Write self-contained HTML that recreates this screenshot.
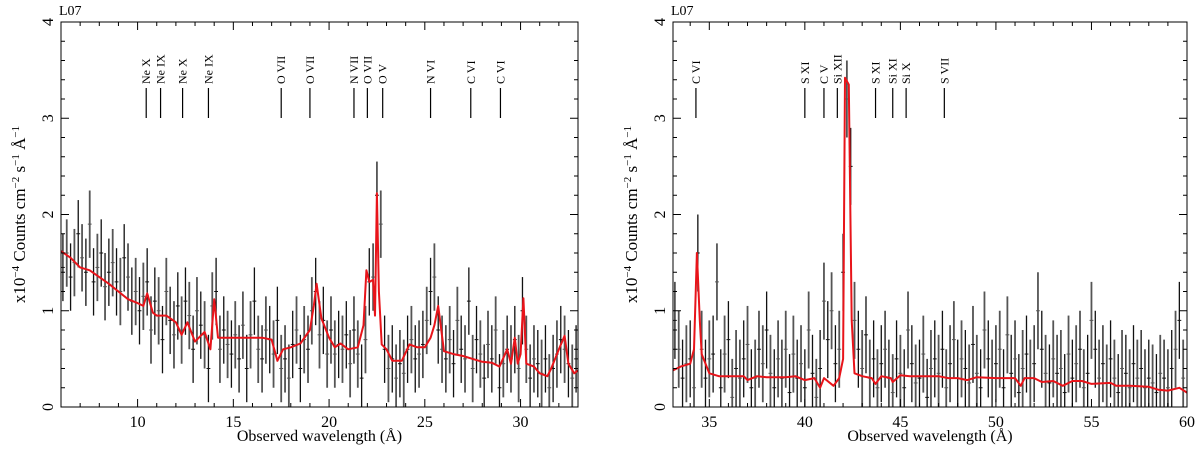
<!DOCTYPE html>
<html><head><meta charset="utf-8"><style>
html,body{margin:0;padding:0;background:#fff;}
svg{display:block;font-family:"Liberation Serif",serif;}
</style></head><body>
<svg id="chart" width="1200" height="452" viewBox="0 0 1200 452" xmlns="http://www.w3.org/2000/svg"></svg>
<script>
// ---------- data ----------
const leftStart = 6.1, leftStep = 0.2;
const leftFlux = [
1.45,1.6,1.35,1.5,1.8,1.55,1.4,1.9,1.3,1.45,
1.6,1.25,1.4,1.5,1.3,1.2,1.55,1.35,1.1,1.2,
1.0,1.15,1.3,0.8,1.1,1.0,0.7,1.2,0.9,0.75,
1.05,0.8,1.1,0.95,0.6,1.0,0.85,0.75,0.4,1.05,
1.2,0.6,0.8,0.65,0.55,0.75,0.5,0.85,0.4,0.75,
1.1,0.6,0.5,0.8,0.7,0.55,0.9,0.4,0.5,0.3,
0.65,0.8,0.4,0.7,0.6,1.0,1.2,0.75,0.9,0.55,
0.8,0.55,0.65,0.6,0.75,0.45,0.8,0.55,0.3,0.7,
1.3,1.35,2.2,1.9,0.6,0.4,0.5,0.3,0.45,0.35,
0.6,0.7,0.5,0.55,0.65,0.9,1.2,1.35,0.8,0.6,
0.5,0.7,0.45,0.9,0.6,0.5,1.1,0.4,0.7,0.55,
0.3,0.65,0.5,0.8,0.2,0.45,0.6,0.5,0.7,0.4,
1.0,0.6,0.3,0.5,0.45,0.35,0.5,0.2,0.4,0.55,
0.7,0.6,0.45,0.3,0.5];
const rightStart = 33.2, rightStep = 0.2;
const rightFlux = [
0.9,0.6,0.3,0.45,0.5,0.2,1.6,0.6,0.3,0.5,
0.55,1.3,0.2,0.55,0.7,0.1,0.4,0.3,0.5,0.65,
0.2,0.3,0.6,0.45,0.8,0.35,0.2,0.5,0.3,0.6,
0.15,0.55,0.3,0.45,0.2,0.8,0.35,0.1,0.4,1.1,
0.7,1.0,0.45,0.6,1.4,3.2,2.5,0.9,0.6,0.4,
0.75,0.3,0.5,0.2,0.45,0.6,0.3,0.15,0.5,0.35,
0.2,0.8,0.45,0.25,0.3,0.55,0.1,0.4,0.5,0.35,
0.6,0.2,0.45,0.7,0.3,0.5,0.4,0.25,0.65,0.35,
0.2,0.8,0.5,0.3,0.45,0.6,0.2,0.75,0.35,0.5,
0.15,0.4,0.55,0.3,0.45,1.0,0.6,0.35,0.25,0.5,
0.35,0.4,0.15,0.55,0.3,0.45,0.6,0.2,0.35,0.9,
0.6,0.3,0.45,0.25,0.5,0.3,0.15,0.4,0.35,0.2,
0.45,0.3,0.4,0.2,0.3,0.25,0.15,0.35,0.3,0.2,
0.4,0.6,0.9,0.3];
const leftErr = 0.35, rightErr = 0.4;
const leftModelX = [6,6.5,7,7.5,8,8.5,9,9.5,10,10.3,10.5,10.8,11,11.5,12,12.3,12.6,13,13.5,13.8,14,14.2,15,15.5,16,16.5,17,17.3,17.6,18,18.5,19,19.2,19.35,19.6,20,20.3,20.6,21,21.5,21.8,21.95,22.1,22.3,22.4,22.5,22.6,22.75,23,23.3,23.8,24.2,24.6,25,25.3,25.5,25.7,26,26.5,27,27.5,28,28.5,28.9,29.3,29.5,29.7,29.85,30,30.15,30.3,30.7,31,31.4,31.6,32,32.3,32.5,32.8,33];
const leftModelY = [1.62,1.55,1.45,1.42,1.35,1.28,1.2,1.12,1.08,1.05,1.18,0.98,0.95,0.95,0.88,0.75,0.88,0.68,0.78,0.6,1.12,0.72,0.72,0.72,0.72,0.72,0.7,0.48,0.6,0.62,0.66,0.8,1.05,1.28,0.92,0.72,0.62,0.66,0.6,0.62,0.85,1.42,1.3,1.32,0.95,2.22,1.2,0.65,0.6,0.48,0.48,0.65,0.62,0.62,0.72,0.85,1.05,0.58,0.55,0.53,0.5,0.47,0.46,0.42,0.6,0.45,0.72,0.45,0.55,1.13,0.45,0.42,0.35,0.32,0.4,0.6,0.74,0.45,0.35,0.38];
const rightModelX = [33.1,33.5,34,34.2,34.35,34.5,34.6,35,35.5,36,36.8,37,37.5,38,39,39.5,40,40.5,40.8,41,41.5,41.8,42,42.1,42.3,42.45,42.6,43,43.5,43.7,44,44.5,44.6,45,45.5,46,47,47.5,48,48.5,49,50,51,51.3,51.5,52,52.4,53,53.5,54,54.5,55,56,56.3,57,58,58.5,59,59.6,60];
const rightModelY = [0.38,0.42,0.45,0.6,1.6,0.9,0.55,0.35,0.32,0.32,0.32,0.28,0.32,0.31,0.31,0.32,0.28,0.3,0.2,0.3,0.22,0.3,0.5,3.42,3.35,0.9,0.35,0.32,0.3,0.24,0.32,0.3,0.26,0.33,0.32,0.32,0.32,0.3,0.3,0.28,0.31,0.3,0.3,0.22,0.3,0.3,0.26,0.27,0.22,0.27,0.27,0.24,0.25,0.22,0.22,0.21,0.18,0.17,0.2,0.15];
const leftLineNames = ["Ne X","Ne IX","Ne X","Ne IX","O VII","O VII","N VII","O VII","O V","N VI","C VI","C VI"];
const leftLineWaves = [10.45,11.2,12.35,13.7,17.5,19.0,21.3,22.0,22.8,25.3,27.4,28.95];
const rightLineNames = ["C VI","S XI","C V","Si XII","S XI","Si XI","Si X","S VII"];
const rightLineWaves = [34.3,40.0,41.0,41.7,43.7,44.6,45.3,47.3];
const leftXTicks = [10,15,20,25,30];
const rightXTicks = [35,40,45,50,55,60];
const yTicks = [0,1,2,3,4];

// ---------- drawing ----------
const NS = "http://www.w3.org/2000/svg";
const svg = document.getElementById('chart');
function el(tag, attrs, parent){const e=document.createElementNS(NS,tag);for(const k in attrs)e.setAttribute(k,attrs[k]);(parent||svg).appendChild(e);return e;}

function panel(cfg){
  const g = el('g',{});
  
  
  const {x0,x1,xmin,xmax} = cfg; const y0=407, y1=22, ymin=0, ymax=4;
  const sx = v => x0 + (v-xmin)/(xmax-xmin)*(x1-x0);
  const sy = v => y0 - (v-ymin)/(ymax-ymin)*(y0-y1);
  const cid = cfg.name+'-clip';
  const defs = el('defs',{},g); const cp = el('clipPath',{id:cid},defs);
  el('rect',{x:x0,y:y1,width:x1-x0,height:y0-y1},cp);
  const dg = el('g',{'clip-path':'url(#'+cid+')'},g);
  
  
  cfg.flux.forEach((f,i)=>{
    const w = cfg.start + i*cfg.step;
    const col = i%2? '#555' : '#111';
    const X = sx(w);
    const bar = el('line',{x1:X,x2:X,y1:sy(f-cfg.err),y2:sy(f+cfg.err),stroke:col,'stroke-width':i%2?1.8:1.3},dg);
    
    
    el('line',{x1:sx(w-cfg.step/2),x2:sx(w+cfg.step/2),y1:sy(f),y2:sy(f),stroke:col,'stroke-width':1},dg);
  });
  let d=''; cfg.mx.forEach((v,i)=>{d+=(i?'L':'M')+sx(v).toFixed(1)+','+sy(cfg.my[i]).toFixed(1);});
  const m = el('path',{d:d,fill:'none',stroke:'#e8141a','stroke-width':2,'stroke-linejoin':'round','clip-path':'url(#'+cid+')'},g);
  
  
  el('rect',{x:x0,y:y1,width:x1-x0,height:y0-y1,fill:'none',stroke:'#000','stroke-width':1},g);
  for(let v=Math.ceil(xmin); v<=xmax; v++){
    const X=sx(v), major = v%5===0, L = major?8:4;
    el('line',{x1:X,x2:X,y1:y0,y2:y0-L,stroke:'#000'},g);
    el('line',{x1:X,x2:X,y1:y1,y2:y1+L,stroke:'#000'},g);
  }
  cfg.xticks.forEach(v=>{
    const t=el('text',{x:sx(v),y:y0+20,'text-anchor':'middle','font-size':16},g); t.textContent=v;
    
    
  });
  for(let k=0;k<=20;k++){
    const v=k*0.2, Y=sy(v), L = k%5===0?8:4;
    el('line',{x1:x0,x2:x0+L,y1:Y,y2:Y,stroke:'#000'},g);
    el('line',{x1:x1,x2:x1-L,y1:Y,y2:Y,stroke:'#000'},g);
  }
  yTicks.forEach(v=>{
    const Y=sy(v), X=x0-8;
    const t=el('text',{x:X,y:Y,'text-anchor':'middle','font-size':16,transform:'rotate(-90 '+X+' '+Y+')'},g); t.textContent=v;
    
    
  });
  const xt=el('text',{x:(x0+x1)/2,y:441,'text-anchor':'middle','font-size':16},g); xt.textContent='Observed wavelength (Å)';
  
  
  const ax=x0-36, ay=(y0+y1)/2;
  const yt=el('text',{x:ax,y:ay,'text-anchor':'middle','font-size':17,transform:'rotate(-90 '+ax+' '+ay+')'},g);
  yt.innerHTML='x10<tspan dy="-6" font-size="11">−4</tspan><tspan dy="6"> Counts cm</tspan><tspan dy="-6" font-size="11">−2</tspan><tspan dy="6"> s</tspan><tspan dy="-6" font-size="11">−1</tspan><tspan dy="6"> Å</tspan><tspan dy="-6" font-size="11">−1</tspan>';
  
  
  const lab=el('text',{x:x0-2,y:15,'font-size':14},g); lab.textContent='L07';
  
  
  cfg.lineNames.forEach((n,i)=>{
    const X=sx(cfg.lineWaves[i]);
    const ln=el('line',{x1:X,x2:X,y1:88,y2:118,stroke:'#000','stroke-width':1.2},g);
    
    
    const t=el('text',{x:X+4,y:84,'font-size':12,transform:'rotate(-90 '+(X+4)+' 84)'},g); t.textContent=n;
    
    
  });
}
panel({name:'left-panel',x0:61,x1:578,xmin:6,xmax:33,start:leftStart,step:leftStep,flux:leftFlux,err:leftErr,mx:leftModelX,my:leftModelY,xticks:leftXTicks,lineNames:leftLineNames,lineWaves:leftLineWaves});
panel({name:'right-panel',x0:673,x1:1187,xmin:33.1,xmax:60,start:rightStart,step:rightStep,flux:rightFlux,err:rightErr,mx:rightModelX,my:rightModelY,xticks:rightXTicks,lineNames:rightLineNames,lineWaves:rightLineWaves});
</script>
</body></html>
